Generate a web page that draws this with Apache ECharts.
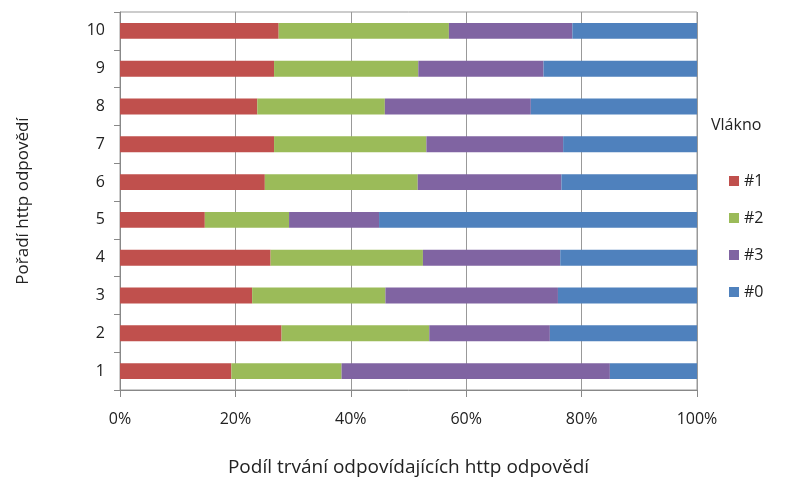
<!DOCTYPE html>
<html>
<head>
<meta charset="utf-8">
<script src="https://cdn.jsdelivr.net/npm/echarts@6/dist/echarts.min.js"></script>
<style>
  html, body { margin: 0; padding: 0; background: #fff; }
  #chart { width: 796px; height: 484px; }
</style>
</head>
<body>
<div id="chart"></div>
<script>
const categories = ['1', '2', '3', '4', '5', '6', '7', '8', '9', '10']
const seriesNames = ['#1', '#2', '#3', '#0']
const thread1 = [19.3, 28.0, 22.9, 26.1, 14.7, 25.1, 26.7, 23.8, 26.7, 27.5]
const thread2 = [19.1, 25.6, 23.1, 26.4, 14.6, 26.5, 26.4, 22.1, 25.0, 29.5]
const thread3 = [46.5, 20.9, 29.9, 23.8, 15.6, 24.9, 23.7, 25.3, 21.7, 21.4]
const thread0 = [15.1, 25.5, 24.1, 23.7, 55.1, 23.5, 23.2, 28.8, 26.6, 21.6]
const colors = ['#C0504D', '#9BBB59', '#8064A2', '#4F81BD']

const font = 'Open Sans'
const chart = echarts.init(document.getElementById('chart'))

const values = [thread1, thread2, thread3, thread0]

const option = {
  animation: false,
  textStyle: { fontFamily: font, color: '#222' },
  grid: {
    left: 120,
    right: 99,
    top: 12,
    bottom: 94,
    show: true,
    borderColor: '#999',
    borderWidth: 1
  },
  legend: {
    orient: 'vertical',
    left: 724,
    top: 168,
    itemWidth: 10,
    itemHeight: 10,
    itemGap: 21,
    icon: 'rect',
    textStyle: { fontFamily: font, fontSize: 16, color: '#222' },
    data: seriesNames
  },
  graphic: [{
    type: 'text',
    left: 711,
    top: 117,
    style: { text: 'Vlákno', fontFamily: font, fontSize: 16, fill: '#222' }
  }],
  xAxis: {
    type: 'value',
    min: 0,
    max: 100,
    interval: 20,
    name: 'Podíl trvání odpovídajících http odpovědí',
    nameLocation: 'middle',
    nameGap: 68,
    nameTextStyle: { fontFamily: font, fontSize: 19, color: '#222' },
    axisLine: { show: true, lineStyle: { color: '#888' } },
    axisTick: { show: true, length: 7, lineStyle: { color: '#888' } },
    axisLabel: { formatter: '{value}%', fontSize: 16, margin: 21, color: '#222' },
    splitLine: { show: true, lineStyle: { color: '#999', width: 1 } }
  },
  yAxis: {
    type: 'category',
    data: categories,
    name: 'Pořadí http odpovědí',
    nameLocation: 'middle',
    nameGap: 88,
    nameRotate: 90,
    nameTextStyle: { fontFamily: font, fontSize: 17, color: '#222' },
    axisLine: { show: true, lineStyle: { color: '#888' } },
    axisTick: { show: true, length: 6, lineStyle: { color: '#888' } },
    axisLabel: { fontSize: 16, margin: 15, color: '#222' }
  },
  series: seriesNames.map((name, i) => ({
    name: name,
    type: 'bar',
    stack: 'total',
    barWidth: '42%',
    itemStyle: { color: colors[i] },
    data: values[i]
  }))
}

chart.setOption(option)
</script>
</body>
</html>
